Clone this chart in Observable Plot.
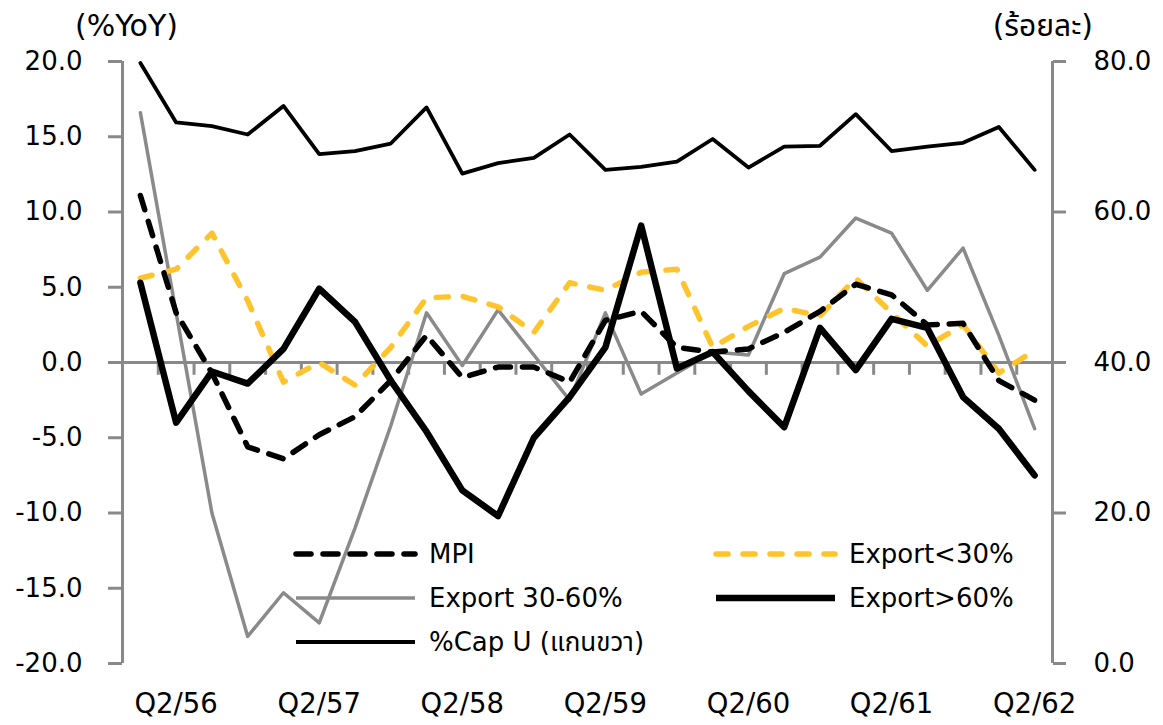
<!DOCTYPE html>
<html>
<head>
<meta charset="utf-8">
<script src="https://cdn.jsdelivr.net/npm/d3@7"></script>
<script src="https://cdn.jsdelivr.net/npm/@observablehq/plot@0.6"></script>
<style>
  body { margin: 0; background: #fff; }
  #wrap { position: relative; width: 1163px; height: 725px; font-family: "DejaVu Sans", "Noto Sans Thai", "Noto Sans", sans-serif; }
  #overlay { position: absolute; left: 0; top: 0; pointer-events: none; }
</style>
</head>
<body>
<div id="wrap"><div id="chart"></div></div>
<script>
// Quarters (Thai Buddhist-era years)
const quarters = ["Q1/56","Q2/56","Q3/56","Q4/56","Q1/57","Q2/57","Q3/57","Q4/57","Q1/58","Q2/58","Q3/58","Q4/58","Q1/59","Q2/59","Q3/59","Q4/59","Q1/60","Q2/60","Q3/60","Q4/60","Q1/61","Q2/61","Q3/61","Q4/61","Q1/62","Q2/62"];
const xTickLabels = ["Q2/56","Q2/57","Q2/58","Q2/59","Q2/60","Q2/61","Q2/62"];

// %YoY (left axis)
const mpi          = [11.1, 3.3, -0.7, -5.6, -6.4, -4.8, -3.6, -1.2, 1.8, -1.0, -0.3, -0.3, -1.3, 2.8, 3.4, 1.0, 0.7, 0.9, 2.0, 3.4, 5.2, 4.5, 2.5, 2.6, -1.2, -2.5];
const exportLt30   = [5.6, 6.2, 8.6, 4.1, -1.3, 0.0, -1.5, 1.0, 4.3, 4.4, 3.7, 2.0, 5.3, 4.8, 6.0, 6.2, 1.0, 2.4, 3.6, 3.1, 5.6, 3.3, 1.1, 2.5, -0.7, 0.8];
const export30to60 = [16.6, 3.3, -10.0, -18.2, -15.3, -17.3, -11.0, -4.2, 3.3, -0.2, 3.5, 0.5, -2.5, 3.3, -2.1, -0.7, 0.7, 0.5, 5.9, 7.0, 9.6, 8.6, 4.8, 7.6, 1.8, -4.4];
const exportGt60   = [5.3, -4.0, -0.6, -1.4, 0.9, 4.9, 2.7, -1.2, -4.6, -8.5, -10.2, -5.0, -2.3, 1.0, 9.1, -0.4, 0.7, -1.9, -4.3, 2.3, -0.5, 2.9, 2.3, -2.3, -4.4, -7.5];
// capacity utilisation, percent (right axis)
const capU         = [79.8, 71.9, 71.4, 70.3, 74.1, 67.7, 68.1, 69.1, 73.9, 65.1, 66.5, 67.2, 70.3, 65.6, 66.0, 66.7, 69.7, 65.9, 68.7, 68.8, 73.0, 68.1, 68.7, 69.2, 71.3, 65.6];

const leftTicks  = [-20, -15, -10, -5, 0, 5, 10, 15, 20];
const rightTicks = [0, 20, 40, 60, 80];

const leftDomain = [-20, 20];
const rightDomain = [0, 80];
// map right-axis values onto the left scale
const toLeft = v => leftDomain[0] + (v - rightDomain[0]) * (leftDomain[1] - leftDomain[0]) / (rightDomain[1] - rightDomain[0]);
const fromLeft = v => rightDomain[0] + (v - leftDomain[0]) * (rightDomain[1] - rightDomain[0]) / (leftDomain[1] - leftDomain[0]);

const rows = arr => quarters.map((q, i) => ({i, q, v: arr[i]}));

const GRAY = "#898989";
const YELLOW = "#FFC32B";
const LINEGRAY = "#8a8a8a";
const FONT = '"DejaVu Sans", "Noto Sans Thai", "Noto Sans", sans-serif';

const W = 1163, H = 725;
const mL = 122, mR = 111, mT = 61, mB = 62;

const chart = Plot.plot({
  width: W, height: H,
  marginLeft: mL, marginRight: mR, marginTop: mT, marginBottom: mB,
  style: {fontFamily: FONT, fontSize: "26px", color: "black", background: "white"},
  x: {type: "linear", domain: [-0.5, quarters.length - 0.5]},
  y: {domain: leftDomain},
  marks: [
    Plot.ruleY([0], {stroke: GRAY, strokeWidth: 3}),
    Plot.ruleX(quarters.slice(1), {x: (d, i) => i + 0.5, y1: 0, y2: -0.85, stroke: GRAY, strokeWidth: 3}),
    Plot.ruleX([-0.5, quarters.length - 0.5], {stroke: GRAY, strokeWidth: 3}),
    Plot.axisY({anchor: "left", ticks: leftTicks, tickFormat: d => d.toFixed(1), tickSize: 14, tickPadding: 26, stroke: GRAY, strokeWidth: 3, fill: "black", label: null}),
    Plot.axisY({anchor: "right", ticks: rightTicks.map(toLeft), tickFormat: d => fromLeft(d).toFixed(1), tickSize: 13, tickPadding: 28, stroke: GRAY, strokeWidth: 3, fill: "black", label: null}),
    Plot.axisX({ticks: xTickLabels.map(l => quarters.indexOf(l)), tickFormat: i => quarters[i], tickSize: 0, tickPadding: 30, fill: "black", fontSize: 27.5, label: null}),
    Plot.line(rows(export30to60), {x: "i", y: "v", stroke: LINEGRAY, strokeWidth: 3.5}),
    Plot.line(rows(exportLt30), {x: "i", y: "v", stroke: YELLOW, strokeWidth: 5.5, strokeDasharray: "12,15", strokeLinecap: "round"}),
    Plot.line(rows(mpi), {x: "i", y: "v", stroke: "black", strokeWidth: 5.5, strokeDasharray: "15,12", strokeLinecap: "round"}),
    Plot.line(rows(exportGt60), {x: "i", y: "v", stroke: "black", strokeWidth: 6.5}),
    Plot.line(rows(capU), {x: "i", y: d => toLeft(d.v), stroke: "black", strokeWidth: 3.8})
  ]
});
document.getElementById("chart").appendChild(chart);

// overlay: axis titles and legend
const legendItems = [
  {label: "MPI", stroke: "black", width: 5.5, dash: "15,12", col: 0, row: 0},
  {label: "Export<30%", stroke: YELLOW, width: 5.5, dash: "12,15", col: 1, row: 0},
  {label: "Export 30-60%", stroke: LINEGRAY, width: 3.5, dash: null, col: 0, row: 1},
  {label: "Export>60%", stroke: "black", width: 6.5, dash: null, col: 1, row: 1},
  {label: "%Cap U (แกนขวา)", stroke: "black", width: 3.8, dash: null, col: 0, row: 2}
];
const svg = d3.select("#wrap").append("svg").attr("id", "overlay").attr("width", W).attr("height", H)
  .style("font-family", FONT).style("font-size", "26px");
svg.append("text").attr("x", 75).attr("y", 36).style("font-size", "30px").text("(%YoY)");
svg.append("text").attr("x", 1093).attr("y", 36).attr("text-anchor", "end").style("font-size", "30px").text("(ร้อยละ)");
const colX = [293, 713], rowY = [554, 598, 642];
const g = svg.selectAll("g.item").data(legendItems).join("g")
  .attr("transform", d => `translate(${colX[d.col]},${rowY[d.row]})`);
g.append("line").attr("x1", 3).attr("x2", 122).attr("y1", 0).attr("y2", 0)
  .attr("stroke", d => d.stroke).attr("stroke-width", d => d.width)
  .attr("stroke-dasharray", d => d.dash).attr("stroke-linecap", d => d.dash ? "round" : "butt");
g.append("text").attr("x", 136).attr("y", 0).attr("dy", "0.36em").text(d => d.label);
</script>
</body>
</html>
